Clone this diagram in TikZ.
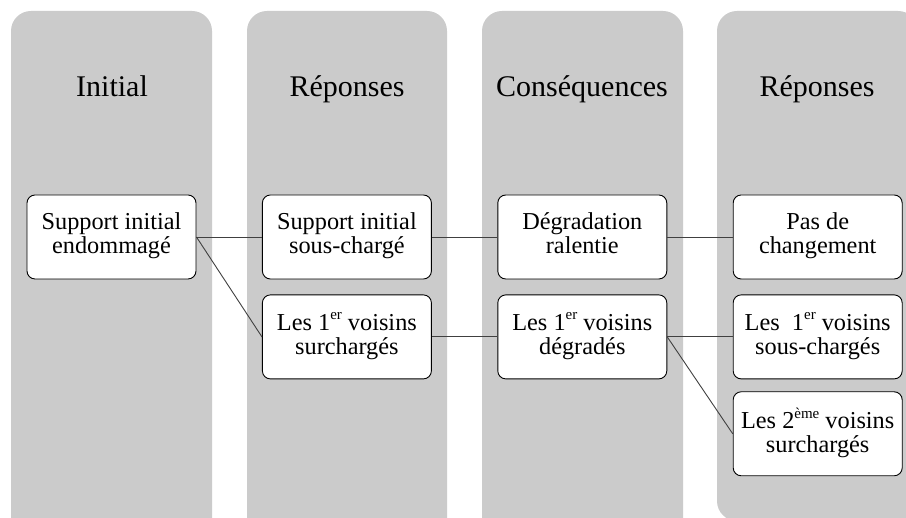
\documentclass[tikz,border=0pt]{standalone}
\usepackage{fontspec}
\setmainfont{Liberation Serif}
\usepackage{xcolor}
\usetikzlibrary{positioning}
\definecolor{colgray}{HTML}{CBCBCB}
\newcommand{\expo}[1]{\raisebox{0.42em}{\fontsize{15}{15}\selectfont #1}}

\begin{document}
\begin{tikzpicture}[
  x=1pt, y=1pt,
  node distance=15pt and 65.5pt,
  column/.style={fill=colgray, rounded corners=20pt},
  head/.style={anchor=base, font=\fontsize{30}{34}\selectfont},
  box/.style={draw, fill=white, line width=0.9pt, rounded corners=8pt,
              minimum width=169pt, minimum height=84pt, align=center,
              inner sep=2pt, font=\fontsize{24.3}{24}\selectfont,
              execute at begin node={\rule{0pt}{21pt}},
              execute at end node={\rule[-7pt]{0pt}{0pt}}},
  link/.style={draw=black!75, line width=0.9pt}
]
  \useasboundingbox (0,0) rectangle (906,518);

  % the four columns
  \fill[column] (11,507)  rectangle (212,-25);
  \fill[column] (247,507) rectangle (447,-25);
  \fill[column] (482,507) rectangle (683,-25);
  \fill[column] (717,507) rectangle (918,-3);

  \node[head] (h1) at (112,421) {Initial};
  \node[head] (h2) at (347,421) {Réponses};
  \node[head] (h3) at (582,421) {Conséquences};
  \node[head] (h4) at (817,421) {Réponses};

  % boxes
  \node[box] (init) at (111.5,281) {Support initial\\endommagé};
  \node[box, right=of init]  (souscharge) {Support initial\\sous-chargé};
  \node[box, below=of souscharge] (surcharge) {Les 1\expo{er} voisins\\surchargés};
  \node[box, right=of souscharge] (ralentie)  {Dégradation\\ralentie};
  \node[box, right=of surcharge]  (degrades)  {Les 1\expo{er} voisins\\dégradés};
  \node[box, right=of ralentie]   (pasdechg)  {Pas de\\changement};
  \node[box, right=of degrades]   (soustwo)   {Les\enspace 1\expo{er} voisins\\sous-chargés};
  \node[box, below=12pt of soustwo] (surtwo)  {Les 2\expo{ème} voisins\\surchargés};

  % links
  \draw[link] (init.east)       -- (souscharge.west);
  \draw[link] (init.east)       -- (surcharge.west);
  \draw[link] (souscharge.east) -- (ralentie.west);
  \draw[link] (surcharge.east)  -- (degrades.west);
  \draw[link] (ralentie.east)   -- (pasdechg.west);
  \draw[link] (degrades.east)   -- (soustwo.west);
  \draw[link] (degrades.east)   -- (surtwo.west);
\end{tikzpicture}
\end{document}
